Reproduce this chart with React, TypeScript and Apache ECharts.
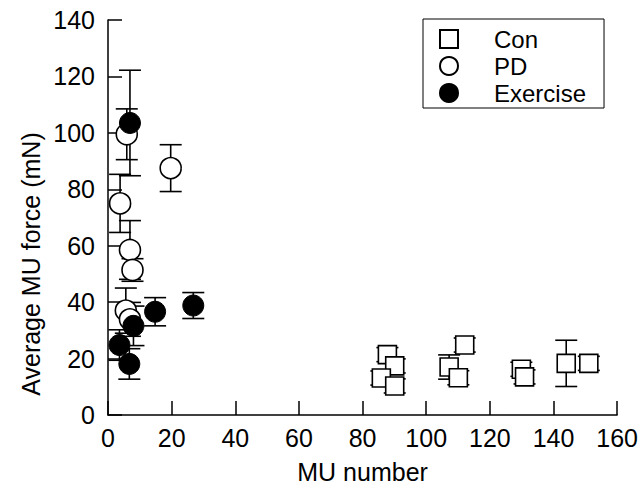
import React, { useEffect, useRef } from "react";
import * as echarts from "echarts";

// Con (open squares)
const conX = [87.8, 90.1, 85.9, 90.1, 112.1, 107.2, 110.1, 129.9, 130.9, 144.0, 151.1];
const conY = [21.4, 17.4, 13.1, 10.3, 24.8, 17.0, 13.2, 16.2, 13.5, 18.3, 18.3];
const conErr = [2.5, 2.5, 2.5, 2.5, 2.5, 4.3, 2.5, 2.5, 2.5, 8.2, 2.5];

// PD (open circles)
const pdX = [5.9, 3.8, 19.7, 6.9, 7.7, 5.6, 6.9];
const pdY = [99.5, 75.0, 87.5, 58.5, 51.4, 37.0, 33.9];
const pdErr = [9.0, 10.3, 8.3, 10.4, 4.0, 8.0, 6.0];

// Exercise (filled circles)
const exX = [6.9, 14.8, 26.8, 8.0, 3.6, 6.7];
const exY = [103.5, 36.6, 38.8, 31.6, 24.8, 18.1];
const exErr = [18.7, 5.0, 4.6, 7.0, 5.4, 5.4];

const seriesNames = ["Con", "PD", "Exercise"];
const xTicks = { min: 0, max: 160, interval: 20 };
const yTicks = { min: 0, max: 140, interval: 20 };
const xTitle = "MU number";
const yTitle = "Average MU force (mN)";

const FONT = "'Liberation Sans', Arial, Helvetica, sans-serif";

function pts(xs: number[], ys: number[]) {
  return xs.map((x, i) => [x, ys[i]]);
}
function errPts(xs: number[], ys: number[], es: number[]) {
  return xs.map((x, i) => [x, ys[i], es[i]]);
}

function errSeries(name: string, data: number[][]) {
  return {
    name,
    type: "custom",
    z: 1,
    encode: { x: 0, y: 1 },
    data,
    renderItem: (params: any, api: any) => {
      const x = api.value(0);
      const y = api.value(1);
      const e = api.value(2);
      const top = api.coord([x, y + e]);
      const bot = api.coord([x, y - e]);
      const hw = 11;
      const style = { stroke: "#000", lineWidth: 1.6, fill: null };
      return {
        type: "group",
        children: [
          { type: "line", shape: { x1: top[0], y1: top[1], x2: bot[0], y2: bot[1] }, style },
          { type: "line", shape: { x1: top[0] - hw, y1: top[1], x2: top[0] + hw, y2: top[1] }, style },
          { type: "line", shape: { x1: bot[0] - hw, y1: bot[1], x2: bot[0] + hw, y2: bot[1] }, style },
        ],
      };
    },
  };
}

export default function App() {
  const ref = useRef<HTMLDivElement>(null);
  useEffect(() => {
    if (!ref.current) return;
    const chart = echarts.init(ref.current, null, { renderer: "svg" });
    const axisLine = { show: true, lineStyle: { color: "#000", width: 1.5 } };
    const axisTick = { show: true, inside: true, length: 14, lineStyle: { color: "#000", width: 1.5 } };
    chart.setOption({
      animation: false,
      backgroundColor: "#fff",
      textStyle: { fontFamily: FONT, color: "#000" },
      grid: { left: 108, right: 23, top: 20, bottom: 80, containLabel: false },
      legend: {
        data: seriesNames,
        orient: "vertical",
        left: 423,
        top: 19,
        padding: [8, 18, 3, 16],
        itemGap: 3,
        itemWidth: 18,
        itemHeight: 18,
        borderColor: "#000",
        borderWidth: 1,
        backgroundColor: "#fff",
        formatter: "{a|{name}}",
        textStyle: {
          fontFamily: FONT,
          color: "#000",
          fontSize: 24,
          rich: { a: { fontFamily: FONT, fontSize: 24, color: "#000", lineHeight: 25, padding: [0, 0, 0, 31] } },
        },
      },
      xAxis: {
        type: "value",
        ...xTicks,
        name: xTitle,
        nameLocation: "middle",
        nameGap: 44,
        nameTextStyle: { fontSize: 25, color: "#000", fontFamily: FONT },
        axisLine,
        axisTick,
        splitLine: { show: false },
        axisLabel: { fontSize: 25, color: "#000", margin: 10, fontFamily: FONT },
      },
      yAxis: {
        type: "value",
        ...yTicks,
        axisLine,
        axisTick,
        splitLine: { show: false },
        axisLabel: { fontSize: 25, color: "#000", margin: 13, fontFamily: FONT },
      },
      graphic: [
        {
          type: "text",
          x: 31,
          y: 264,
          rotation: Math.PI / 2,
          style: {
            text: yTitle,
            fontSize: 25,
            fontFamily: FONT,
            fill: "#000",
            align: "center",
            verticalAlign: "middle",
          },
        },
      ],
      series: [
        errSeries("ConErr", errPts(conX, conY, conErr)),
        errSeries("PDErr", errPts(pdX, pdY, pdErr)),
        errSeries("ExErr", errPts(exX, exY, exErr)),
        {
          name: "Con",
          type: "scatter",
          z: 2,
          symbol: "rect",
          symbolSize: 18,
          itemStyle: { color: "#fff", borderColor: "#000", borderWidth: 1.6, opacity: 1 },
          data: pts(conX, conY),
        },
        {
          name: "PD",
          type: "scatter",
          z: 3,
          symbol: "circle",
          symbolSize: 21,
          itemStyle: { color: "#fff", borderColor: "#000", borderWidth: 1.6, opacity: 1 },
          data: pts(pdX, pdY),
        },
        {
          name: "Exercise",
          type: "scatter",
          z: 4,
          symbol: "circle",
          symbolSize: 21,
          itemStyle: { color: "#000", borderColor: "#000", borderWidth: 1, opacity: 1 },
          data: pts(exX, exY),
        },
      ],
    });
    return () => chart.dispose();
  }, []);
  return (
    <div
      ref={ref}
      style={{ position: "fixed", left: 0, top: 0, width: 641, height: 495, background: "#fff" }}
    />
  );
}
